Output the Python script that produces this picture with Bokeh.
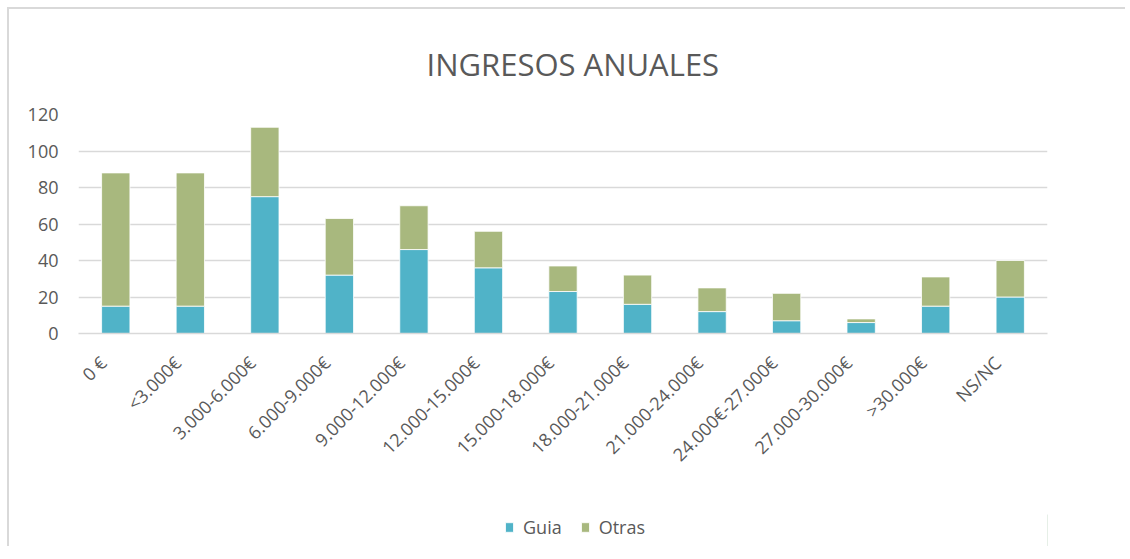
import math
from bokeh.plotting import figure
from bokeh.layouts import column, row
from bokeh.models import Legend, LegendItem, Range1d, FixedTicker, Title, Spacer
from bokeh.embed import file_html
from bokeh.resources import INLINE

categories = ["0 €", "<3.000€", "3.000-6.000€", "6.000-9.000€", "9.000-12.000€",
              "12.000-15.000€", "15.000-18.000€", "18.000-21.000€", "21.000-24.000€",
              "24.000€-27.000€", "27.000-30.000€", ">30.000€", "NS/NC"]
guia = [15, 15, 75, 32, 46, 36, 23, 16, 12, 7, 6, 15, 20]
otras = [73, 73, 38, 31, 24, 20, 14, 16, 13, 15, 2, 16, 20]
series = ["Guia", "Otras"]
colors = ["#50B3C8", "#A8B87E"]
y_ticks = [0, 20, 40, 60, 80, 100, 120]
title_text = "INGRESOS ANUALES"

FONT = "Open Sans"
TXT = "#595959"
BORDER = "2px solid #d9d9d9"

n = len(categories)
pos = [i + 0.5 for i in range(n)]          # category slot centres
data = {"x": pos, "cat": categories, "Guia": guia, "Otras": otras}

p = figure(x_range=Range1d(0, n), y_range=(0, 120),
           width=1118, height=507, output_backend="svg", toolbar_location=None,
           min_border_left=69, min_border_right=80, min_border_top=105, min_border_bottom=183)
p.styles = {"border-left": BORDER, "border-top": BORDER}
p.outline_line_color = None

rs = p.vbar_stack(series, x="x", width=0.38, color=colors, source=data,
                  line_color="white", line_width=0.8)

p.ygrid.grid_line_color = "#d9d9d9"
p.ygrid.grid_line_width = 1.5
p.xgrid.grid_line_color = None
p.yaxis.ticker = y_ticks
p.yaxis.axis_line_color = None
p.yaxis.major_tick_line_color = None
p.yaxis.minor_tick_line_color = None
p.yaxis.major_label_standoff = 14
p.yaxis.major_label_text_font = FONT
p.yaxis.major_label_text_font_size = "18px"
p.yaxis.major_label_text_color = TXT

# rotated category labels, anchored slightly left of each slot centre as Excel does
shift = 0.17
lab_ticks = [x - shift for x in pos]
p.xaxis.ticker = FixedTicker(ticks=lab_ticks)
p.xaxis.major_label_overrides = {t: c for t, c in zip(lab_ticks, categories)}
p.xaxis.axis_line_color = "#d9d9d9"
p.xaxis.axis_line_width = 1.5
p.xaxis.major_tick_line_color = None
p.xaxis.minor_tick_line_color = None
p.xaxis.major_label_orientation = math.pi / 4
p.xaxis.major_label_standoff = 20
p.xaxis.major_label_text_font = FONT
p.xaxis.major_label_text_font_size = "18px"
p.xaxis.major_label_text_color = TXT

title = Title(text=title_text, align="left", offset=348, standoff=59,
              text_font=FONT, text_font_size="31px", text_font_style="normal",
              text_color=TXT)
p.add_layout(title, "above")

# legend strip under the chart (swatch renderers sit outside the strip's visible range)
q = figure(width=1118, height=32, output_backend="svg", toolbar_location=None,
           x_range=Range1d(0, 1), y_range=Range1d(0, 1),
           min_border=0, min_border_left=0, min_border_right=0,
           min_border_top=0, min_border_bottom=0)
q.styles = {"border-left": BORDER}
q.outline_line_color = None
q.axis.visible = False
q.grid.visible = False
swatches = [q.vbar(x=[5], top=[1], width=0.38, color=c, line_color="white", line_width=0.8)
            for c in colors]
legend = Legend(items=[LegendItem(label=s, renderers=[r]) for s, r in zip(series, swatches)],
                location=(426, 7), orientation="horizontal",
                glyph_width=10, glyph_height=12, label_standoff=9, spacing=18,
                padding=0, margin=0, border_line_color=None, background_fill_alpha=0,
                label_text_font=FONT, label_text_font_size="18px", label_text_color=TXT)
q.add_layout(legend, "center")

layout = column(Spacer(height=7), row(Spacer(width=7), column(p, q)))

open("out.html", "w").write(file_html(layout, INLINE))
